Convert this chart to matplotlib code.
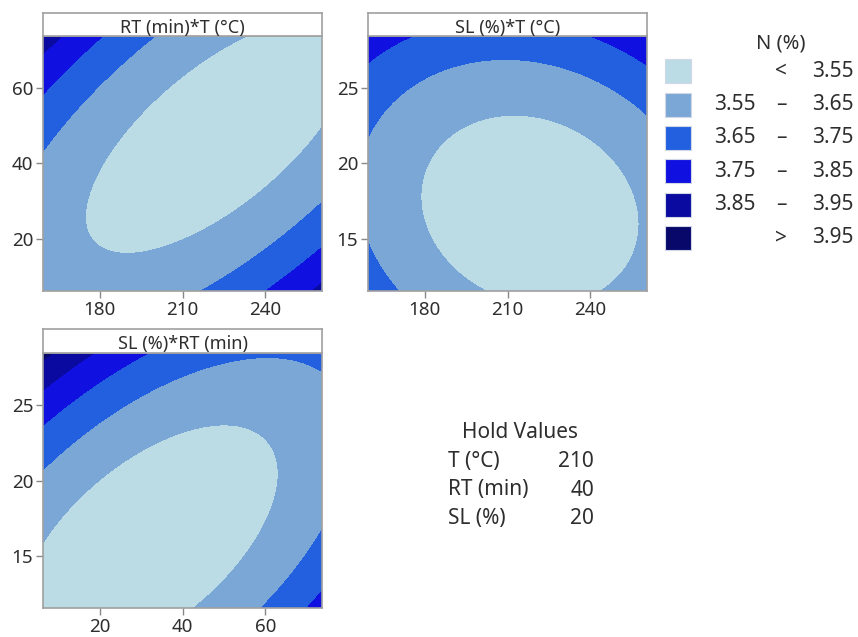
import numpy as np
import matplotlib
matplotlib.use("Agg")
import matplotlib.pyplot as plt
from matplotlib.patches import Rectangle

plt.rcParams["font.family"] = ["Noto Sans", "DejaVu Sans"]

# Fitted second-order model for N (%), in coded units
# x_T = (T - 210)/30, x_RT = (RT - 40)/20, x_SL = (SL - 20)/5
intercept = 3.5012
linear = [-0.0139, -0.0060, 0.0497]            # T, RT, SL
square = [0.0390, 0.0421, 0.0428]              # T*T, RT*RT, SL*SL
interaction = [-0.0558, 0.0117, -0.0496]       # T*RT, T*SL, RT*SL

factor_names = ["T (°C)", "RT (min)", "SL (%)"]
centers = [210, 40, 20]
steps = [30, 20, 5]
alpha = 1.682
hold_values = [210, 40, 20]

panels = [(1, 0), (2, 0), (2, 1)]               # (y factor, x factor)
panel_titles = ["RT (min)*T (°C)", "SL (%)*T (°C)", "SL (%)*RT (min)"]
x_ticks = [[180, 210, 240], [180, 210, 240], [20, 40, 60]]
y_ticks = [[20, 40, 60], [15, 20, 25], [15, 20, 25]]

levels = [3.55, 3.65, 3.75, 3.85, 3.95]
band_labels = [("", "<", "3.55"), ("3.55", "–", "3.65"), ("3.65", "–", "3.75"),
               ("3.75", "–", "3.85"), ("3.85", "–", "3.95"), ("", ">", "3.95")]
colors = ["#BCDCE5", "#7BA7D7", "#2360E0", "#1010E0", "#0A0AA0", "#08086A"]

EDGE = "#A0A0A0"
TEXT = "#2E2E2E"


def response(values):
    x = [(values[i] - centers[i]) / steps[i] for i in range(3)]
    z = intercept
    for i in range(3):
        z = z + linear[i] * x[i] + square[i] * x[i] ** 2
    z = z + interaction[0] * x[0] * x[1] + interaction[1] * x[0] * x[2] + interaction[2] * x[1] * x[2]
    return z


W, H = 858, 637
fig = plt.figure(figsize=(8.58, 6.37), dpi=100)


def box(l, t, r, b):
    return [l / W, 1 - b / H, (r - l) / W, (b - t) / H]


plot_boxes = [(43, 36, 322, 291), (368, 36, 647, 291), (43, 353, 322, 608)]
header_boxes = [(43, 13, 322, 36), (368, 13, 647, 36), (43, 329, 322, 353)]

for k, (iy, ix) in enumerate(panels):
    gx = np.linspace(centers[ix] - alpha * steps[ix], centers[ix] + alpha * steps[ix], 400)
    gy = np.linspace(centers[iy] - alpha * steps[iy], centers[iy] + alpha * steps[iy], 400)
    X, Y = np.meshgrid(gx, gy)
    vals = [np.full_like(X, v, dtype=float) for v in hold_values]
    vals[ix] = X
    vals[iy] = Y
    Z = response(vals)

    ax = fig.add_axes(box(*plot_boxes[k]))
    ax.contourf(X, Y, Z, levels=[-np.inf] + levels + [np.inf], colors=colors, antialiased=False)
    ax.set_xlim(gx[0], gx[-1])
    ax.set_ylim(gy[0], gy[-1])
    ax.set_xticks(x_ticks[k])
    ax.set_yticks(y_ticks[k])
    ax.tick_params(length=5, width=1, color="#888888", labelsize=13.5, labelcolor=TEXT, pad=2)
    for sp in ax.spines.values():
        sp.set_color(EDGE)
        sp.set_linewidth(1.2)

    hx = fig.add_axes(box(*header_boxes[k]))
    hx.set_xticks([])
    hx.set_yticks([])
    for sp in hx.spines.values():
        sp.set_color(EDGE)
        sp.set_linewidth(1.2)
    hx.text(0.5, 0.36, panel_titles[k], ha="center", va="center", fontsize=13,
            color=TEXT, transform=hx.transAxes)

# legend
fig.text(781 / W, 1 - 44 / H, "N (%)", ha="center", va="center", fontsize=14.5, color=TEXT)
for i, (lo, sym, hi) in enumerate(band_labels):
    top = 59.3 + 33.3 * i
    fig.patches.append(Rectangle((665 / W, 1 - (top + 24) / H), 26 / W, 24 / H,
                                 facecolor=colors[i], edgecolor="#D0D8E8", linewidth=0.8,
                                 transform=fig.transFigure, figure=fig))
    yc = 1 - (top + 12) / H
    if lo:
        fig.text(756 / W, yc, lo, ha="right", va="center", fontsize=15, color=TEXT)
    fig.text(781 / W, yc, sym, ha="center", va="center", fontsize=15, color=TEXT)
    fig.text(854 / W, yc, hi, ha="right", va="center", fontsize=15, color=TEXT)

# hold values
fig.text(520 / W, 1 - 432 / H, "Hold Values", ha="center", va="center", fontsize=15, color=TEXT)
for i, (name, val) in enumerate(zip(factor_names, hold_values)):
    yc = 1 - (461.7 + 28.3 * i) / H
    fig.text(448 / W, yc, name, ha="left", va="center", fontsize=15, color=TEXT)
    fig.text(594 / W, yc, str(val), ha="right", va="center", fontsize=15, color=TEXT)

fig.savefig("out.png", dpi=100)
